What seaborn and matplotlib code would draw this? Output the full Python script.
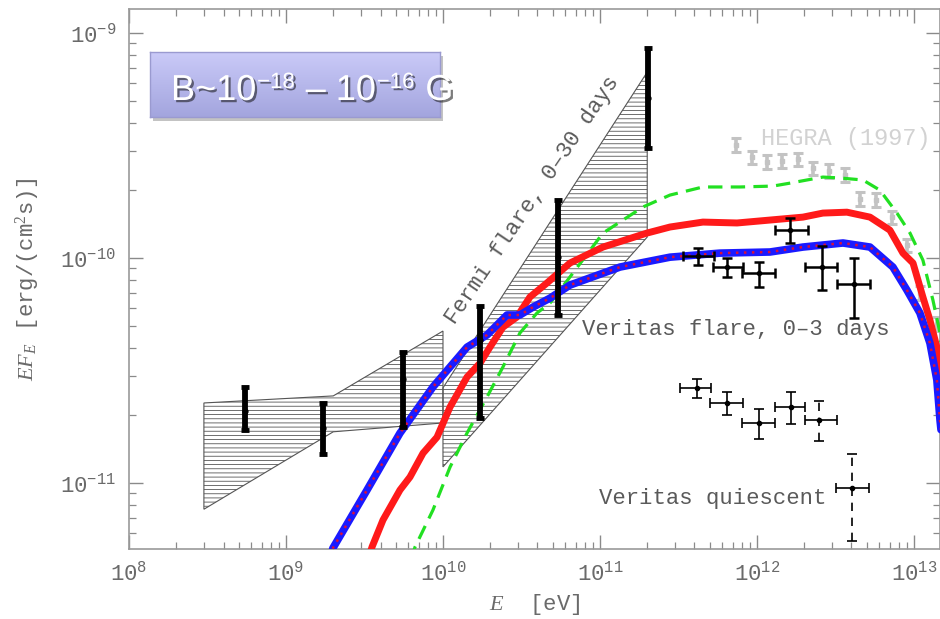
import numpy as np
import pandas as pd
import matplotlib
matplotlib.use("Agg")
import matplotlib.pyplot as plt
import seaborn as sns
import matplotlib.patheffects as pe
from matplotlib.colors import LinearSegmentedColormap
from matplotlib.patches import Rectangle
from matplotlib.ticker import LogLocator, NullFormatter

# ---------------- data ----------------
# Fermi-LAT points (thick bars)
fermi_E = [5.5e8, 1.72e9, 5.56e9, 1.72e10, 5.4e10, 2.02e11]
fermi_F = [2.09e-11, 1.76e-11, 2.9e-11, 4.33e-11, 1.01e-10, 5.14e-10]
fermi_hi = [2.67e-11, 2.27e-11, 3.82e-11, 6.12e-11, 1.81e-10, 8.57e-10]
fermi_lo = [1.72e-11, 1.35e-11, 1.77e-11, 1.95e-11, 5.58e-11, 3.08e-10]

# Fermi bow-ties (quiescent, flare)
bow1_E = [3e8, 2e9, 1e10, 1e10, 2e9, 3e8]
bow1_F = [2.27e-11, 2.44e-11, 4.74e-11, 1.85e-11, 1.69e-11, 7.65e-12]
bow2_E = [1e10, 2e11, 2e11, 1e10]
bow2_F = [2.65e-11, 6.71e-10, 1.24e-10, 1.18e-11]

# Veritas flare
vf_E = [4.2e11, 6.45e11, 1.03e12, 1.62e12, 2.6e12, 4.15e12]
vf_F = [1.02e-10, 9.1e-11, 8.58e-11, 1.33e-10, 9.1e-11, 7.66e-11]
vf_Fhi = [1.107e-10, 1.0e-10, 9.6e-11, 1.51e-10, 1.13e-10, 1.0e-10]
vf_Flo = [9.31e-11, 8.24e-11, 7.43e-11, 1.17e-10, 7.21e-11, 5.41e-11]
vf_Elo = [3.38e11, 5.25e11, 8.02e11, 1.30e12, 2.02e12, 3.24e12]
vf_Ehi = [5.32e11, 8.15e11, 1.30e12, 2.11e12, 3.24e12, 5.25e12]

# Veritas quiescent
vq_E = [4.14e11, 6.45e11, 1.03e12, 1.64e12, 2.5e12, 4.03e12]
vq_F = [2.64e-11, 2.27e-11, 1.85e-11, 2.18e-11, 1.9e-11, 9.5e-12]
vq_Fhi = [2.9e-11, 2.54e-11, 2.13e-11, 2.54e-11, 2.31e-11, 1.35e-11]
vq_Flo = [2.39e-11, 2.0e-11, 1.57e-11, 1.83e-11, 1.54e-11, 5.52e-12]
vq_Elo = [3.24e11, 5.0e11, 8.0e11, 1.3e12, 2.02e12, 3.19e12]
vq_Ehi = [5.1e11, 8.15e11, 1.3e12, 2.02e12, 3.24e12, 5.17e12]

# HEGRA (1997)
hegra_E = [7.35e11, 9.3e11, 1.16e12, 1.44e12, 1.82e12, 2.27e12, 2.88e12,
           3.64e12, 4.53e12, 5.73e12, 7.24e12, 9.0e12, 1.09e13, 1.4e13]
hegra_F = [3.18e-10, 2.81e-10, 2.67e-10, 2.71e-10, 2.75e-10, 2.51e-10, 2.44e-10,
           2.34e-10, 1.83e-10, 1.81e-10, 1.52e-10, 1.14e-10, 7.0e-11, 5.1e-11]

# Model curves (log10 E [eV], log10 EF_E)
blue_logE = [9.27, 9.299, 9.516, 9.726, 9.936, 10.045, 10.153, 10.280, 10.408, 10.490,
             10.573, 10.682, 10.809, 11.127, 11.446, 11.764, 12.083, 12.293, 12.548,
             12.720, 12.866, 12.955, 13.038, 13.102, 13.146, 13.166, 13.20]
blue_logF = [-11.36, -11.289, -11.031, -10.778, -10.573, -10.484, -10.396, -10.342, -10.253,
             -10.253, -10.218, -10.178, -10.12, -10.04, -9.996, -9.978, -9.973, -9.951,
             -9.933, -9.951, -10.04, -10.142, -10.244, -10.378, -10.542, -10.72, -10.95]
red_logE = [9.522, 9.548, 9.618, 9.726, 9.790, 9.873, 9.962, 10.045, 10.153, 10.236,
            10.299, 10.382, 10.471, 10.554, 10.662, 10.809, 11.019, 11.299, 11.446,
            11.656, 11.873, 12.083, 12.293, 12.420, 12.573, 12.720, 12.847, 12.930,
            12.994, 13.057, 13.102, 13.146, 13.166, 13.20]
red_logF = [-11.342, -11.284, -11.164, -11.031, -10.973, -10.867, -10.796, -10.662, -10.529,
            -10.467, -10.396, -10.307, -10.262, -10.173, -10.111, -10.022, -9.951, -9.889,
            -9.862, -9.840, -9.844, -9.831, -9.818, -9.800, -9.796, -9.818, -9.876, -9.978,
            -10.022, -10.173, -10.276, -10.396, -10.484, -10.70]
green_logE = [9.796, 9.822, 9.936, 10.045, 10.153, 10.280, 10.382, 10.490, 10.599, 10.682,
              10.809, 11.019, 11.274, 11.446, 11.656, 11.892, 12.102, 12.21, 12.318, 12.420,
              12.529, 12.675, 12.783, 12.892, 12.975, 13.057, 13.121, 13.166, 13.20]
green_logF = [-11.342, -11.284, -11.12, -10.929, -10.778, -10.618, -10.484, -10.333, -10.244,
              -10.2, -10.084, -9.889, -9.773, -9.72, -9.684, -9.684, -9.68, -9.667, -9.653,
              -9.64, -9.644, -9.653, -9.698, -9.8, -9.889, -10.009, -10.187, -10.333, -10.55]

# ---------------- style ----------------
sns.set_style("ticks")
plt.rcParams["font.family"] = ["Liberation Mono", "DejaVu Sans"]
plt.rcParams["mathtext.fontset"] = "custom"
plt.rcParams["mathtext.rm"] = "Liberation Serif"
plt.rcParams["mathtext.it"] = "Liberation Serif:italic"
plt.rcParams["hatch.color"] = "#707070"
plt.rcParams["hatch.linewidth"] = 0.6

GRAY_TXT = "#5a5a5a"
W, H = 940, 619

fig = plt.figure(figsize=(9.4, 6.19), dpi=100)
ax = fig.add_axes([129 / W, 1 - 549 / H, 811 / W, 540 / H])

# bow-ties
ax.fill(bow1_E, bow1_F, facecolor="none", edgecolor="#555555", hatch="----", lw=0.8, zorder=1)
ax.fill(bow2_E, bow2_F, facecolor="none", edgecolor="#555555", hatch="----", lw=0.8, zorder=1)

# model curves
df_b = pd.DataFrame({"E": np.power(10.0, blue_logE), "F": np.power(10.0, blue_logF)})
df_r = pd.DataFrame({"E": np.power(10.0, red_logE), "F": np.power(10.0, red_logF)})
df_g = pd.DataFrame({"E": np.power(10.0, green_logE), "F": np.power(10.0, green_logF)})

sns.lineplot(data=df_g, x="E", y="F", ax=ax, color="#22e022", lw=2.3,
             linestyle=(0, (4.5, 2.6)), estimator=None, sort=False, zorder=3)
sns.lineplot(data=df_r, x="E", y="F", ax=ax, color="#ff1a1a", lw=5.0,
             estimator=None, sort=False, zorder=4)
sns.lineplot(data=df_b, x="E", y="F", ax=ax, color="#1a1aff", lw=5.5,
             estimator=None, sort=False, zorder=5)
sns.lineplot(data=df_b, x="E", y="F", ax=ax, color="#d8103c", lw=1.8,
             linestyle=(0, (1, 2.2)), estimator=None, sort=False, zorder=6)

# Fermi points
fE = np.array(fermi_E); fF = np.array(fermi_F)
ax.errorbar(fE, fF, yerr=[fF - np.array(fermi_lo), np.array(fermi_hi) - fF],
            fmt="o", ms=3.5, color="black", elinewidth=4.2, capsize=3, capthick=3.5, zorder=7)

# HEGRA
hE = np.array(hegra_E); hF = np.array(hegra_F)
ax.errorbar(hE, hF, yerr=[hF * 0.07, hF * 0.07], fmt="s", ms=3.5, color="#c3c3c3",
            elinewidth=2.6, capsize=3.5, capthick=2.2, zorder=2)

# Veritas flare
vE = np.array(vf_E); vF = np.array(vf_F)
ax.errorbar(vE, vF, yerr=[vF - np.array(vf_Flo), np.array(vf_Fhi) - vF],
            xerr=[vE - np.array(vf_Elo), np.array(vf_Ehi) - vE],
            fmt="o", ms=3, color="black", elinewidth=1.8, capsize=3.5, capthick=1.8, zorder=8)

# Veritas quiescent
qE = np.array(vq_E); qF = np.array(vq_F)
ax.errorbar(qE[:4], qF[:4], yerr=[qF[:4] - np.array(vq_Flo[:4]), np.array(vq_Fhi[:4]) - qF[:4]],
            xerr=[qE[:4] - np.array(vq_Elo[:4]), np.array(vq_Ehi[:4]) - qE[:4]],
            fmt="o", ms=3, color="black", elinewidth=1.2, capsize=3.5, capthick=1.2, zorder=8)
eb2 = ax.errorbar(qE[4:], qF[4:], yerr=[qF[4:] - np.array(vq_Flo[4:]), np.array(vq_Fhi[4:]) - qF[4:]],
                  xerr=[qE[4:] - np.array(vq_Elo[4:]), np.array(vq_Ehi[4:]) - qE[4:]],
                  fmt="o", ms=3, color="black", elinewidth=1.2, capsize=3.5, capthick=1.2, zorder=8)
eb2[2][1].set_linestyle((0, (5, 4)))

# annotations
ax.text(3.74e10, 1.81e-10, "Fermi flare, 0\u201330 days", rotation=56, rotation_mode="anchor",
        ha="center", va="center", fontsize=16, color=GRAY_TXT)
ax.text(3.69e12, 3.41e-10, "HEGRA (1997)", ha="center", va="center", fontsize=17, color="#d2d2d2")
ax.text(7.35e11, 4.79e-11, "Veritas flare, 0\u20133 days", ha="center", va="center",
        fontsize=16, color=GRAY_TXT)
ax.text(5.25e11, 8.57e-12, "Veritas quiescent", ha="center", va="center",
        fontsize=16, color=GRAY_TXT)

# axes
ax.set_xscale("log")
ax.set_yscale("log")
ax.set_xlim(1e8, 10 ** 13.166)
ax.set_ylim(10 ** -11.293, 10 ** -8.893)
ax.xaxis.set_major_locator(LogLocator(base=10, numticks=20))
ax.xaxis.set_minor_locator(LogLocator(base=10, subs=np.arange(2, 10), numticks=50))
ax.yaxis.set_major_locator(LogLocator(base=10, numticks=20))
ax.yaxis.set_minor_locator(LogLocator(base=10, subs=np.arange(2, 10), numticks=50))
ax.xaxis.set_minor_formatter(NullFormatter())
ax.yaxis.set_minor_formatter(NullFormatter())
ax.xaxis.get_offset_text().set_visible(False)
ax.yaxis.get_offset_text().set_visible(False)

ax.tick_params(which="major", direction="in", length=10, width=1.0, top=True, right=True,
               color="#8a8a8a", labelcolor="#6a6a6a", labelsize=16, pad=9)
ax.tick_params(which="minor", direction="in", length=5, width=0.9, top=True, right=True,
               color="#8a8a8a")
for s in ax.spines.values():
    s.set_color("#9a9a9a")
    s.set_linewidth(1.2)

ax.set_xlabel("$E$  [eV]", fontsize=16, color="#6a6a6a")
ax.set_ylabel("$EF_{E}$ [erg/(cm$^{2}$s)]", fontsize=16, color="#6a6a6a")
ax.xaxis.set_label_coords(0.5, -(592 - 549) / 540)
ax.yaxis.set_label_coords(-(129 - 42) / 811, 0.5)

# B-field box
shadow = Rectangle((153 / W, 1 - 121 / H), 290 / W, 65 / H, transform=fig.transFigure,
                   facecolor="#555555", alpha=0.35, edgecolor="none", zorder=4)
fig.patches.append(shadow)
bax = fig.add_axes([150 / W, 1 - 117 / H, 290 / W, 65 / H])
bax.set_zorder(5)
grad = np.linspace(0, 1, 64).reshape(-1, 1)
cmap = LinearSegmentedColormap.from_list("lav", ["#cacaf8", "#a3a5de"])
bax.imshow(grad, aspect="auto", cmap=cmap, extent=[0, 1, 0, 1], origin="upper")
bax.set_xticks([]); bax.set_yticks([])
for s in bax.spines.values():
    s.set_color("#9a9ad0")
    s.set_linewidth(1.0)

# box text, laid out piece by piece (big text + small raised exponents)
shadow_fx = [pe.withSimplePatchShadow(offset=(1.6, -1.6), shadow_rgbFace="#111111", alpha=0.55)]
pieces = [("B~10", 26, 0), ("\u221218", 16, 12), (" \u2013 10", 26, 0), ("\u221216", 16, 12), (" G", 26, 0)]
renderer = fig.canvas.get_renderer()
x_px, base_px = 171.0, H - 100.0
for txt, size, raise_px in pieces:
    t = fig.text(x_px / W, (base_px + raise_px) / H, txt, fontsize=size, family="Liberation Sans",
                 color="white", ha="left", va="baseline", zorder=10, path_effects=shadow_fx)
    bb = t.get_window_extent(renderer)
    x_px = bb.x1 + 0.7

fig.savefig("out.png", dpi=100)
